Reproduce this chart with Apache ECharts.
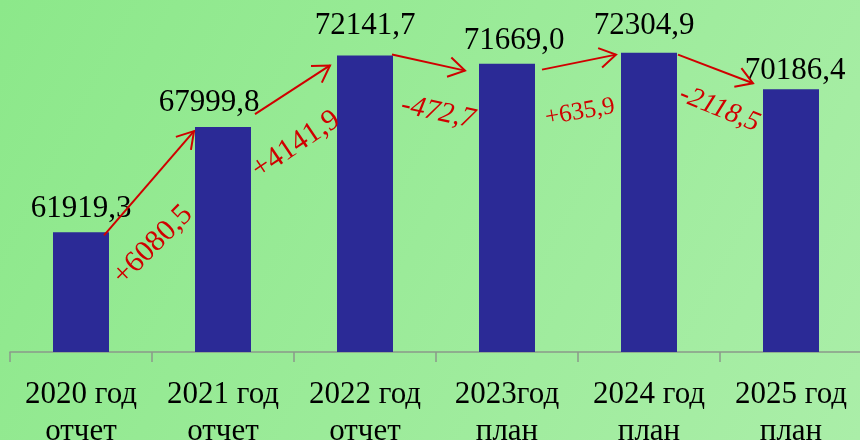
<!DOCTYPE html>
<html><head><meta charset="utf-8">
<script src="https://cdn.jsdelivr.net/npm/echarts@6/dist/echarts.min.js"></script>
<style>html,body{margin:0;padding:0;overflow:hidden;} #c{width:860px;height:440px;}</style>
</head><body><div id="c"></div>
<script>
// ---- data ----
const categories = ['2020 год\nотчет', '2021 год\nотчет', '2022 год\nотчет', '2023год\nплан', '2024 год\nплан', '2025 год\nплан'];
const values = [61919.3, 67999.8, 72141.7, 71669.0, 72304.9, 70186.4];
const changeLabels = ['+6080,5', '+4141,9', '-472,7', '+635,9', '-2118,5'];

// ---- layout / style ----
const FONT = '"Liberation Serif", "Times New Roman", serif';
const RED = '#d00000';
const BAR_W = 56;
const valueLabelShift = [[0, 0], [-14, -1], [0, -6], [7, 1], [-5, -3], [4, 5]];
const arrowStartShift = [[-5, 3], [4, -13], [-1, -1], [7, 6], [1, 2]];
const arrowEndShift = [[-1, 4], [-7, 10], [-14, 7], [-5, 2], [-10, -6]];
const changeLabelShift = [[4, 62], [3.5, 55], [9.5, 50], [1, 50], [4, 40]];
const changeLabelRot = [45, 34, -12, 10, -22];
const changeLabelSize = [30, 30, 29, 25, 28];
const changeLabelItalic = [false, false, true, false, true];

const chart = echarts.init(document.getElementById('c'));

const arrowData = changeLabels.map((t, i) => [i, values[i], values[i + 1]]);

chart.setOption({
  backgroundColor: {
    type: 'linear', x: 0, y: 0, x2: 1, y2: 1,
    colorStops: [{offset: 0, color: '#8ce88a'}, {offset: 1, color: '#aaeea8'}]
  },
  animation: false,
  grid: {left: 10, right: -2, top: 6, bottom: 88, containLabel: false, outerBoundsMode: 'none'},
  xAxis: {
    type: 'category',
    data: categories,
    boundaryGap: true,
    axisLine: {show: true, lineStyle: {color: '#8a998a', width: 1.5}},
    axisTick: {show: true, length: 10, lineStyle: {color: '#8a998a', width: 1.5}},
    axisLabel: {
      interval: 0, color: '#000', fontFamily: FONT, fontSize: 31, lineHeight: 37, margin: 24
    },
    splitLine: {show: false}
  },
  yAxis: {
    type: 'value', min: 55000, max: 75000, show: false, splitLine: {show: false}
  },
  series: [
    {
      type: 'bar',
      barWidth: BAR_W,
      itemStyle: {color: '#2b2a96'},
      label: {
        show: true, position: 'top', distance: 8,
        color: '#000', fontFamily: FONT, fontSize: 31,
        formatter: p => p.value.toFixed(1).replace('.', ',')
      },
      data: values.map((v, i) => ({value: v, label: {offset: valueLabelShift[i]}})),
      z: 2
    },
    {
      type: 'custom',
      z: 5,
      silent: true,
      encode: {x: 0, y: 1},
      data: arrowData,
      renderItem: function (params, api) {
        const i = params.dataIndex;
        const a = api.coord([api.value(0), api.value(1)]);
        const b = api.coord([api.value(0) + 1, api.value(2)]);
        const sx = a[0] + BAR_W / 2 + arrowStartShift[i][0];
        const sy = a[1] + arrowStartShift[i][1];
        const ex = b[0] - BAR_W / 2 + arrowEndShift[i][0];
        const ey = b[1] + arrowEndShift[i][1];
        const ang = Math.atan2(ey - sy, ex - sx);
        const L = 19, sp = 0.55;
        const h1 = [ex - L * Math.cos(ang - sp), ey - L * Math.sin(ang - sp)];
        const h2 = [ex - L * Math.cos(ang + sp), ey - L * Math.sin(ang + sp)];
        const mx = (sx + ex) / 2, my = (sy + ey) / 2;
        return {
          type: 'group',
          children: [
            {type: 'line', shape: {x1: sx, y1: sy, x2: ex, y2: ey}, style: {stroke: RED, lineWidth: 2}},
            {type: 'polyline', shape: {points: [h1, [ex, ey], h2]}, style: {stroke: RED, lineWidth: 2, fill: null}},
            {
              type: 'text',
              x: mx + changeLabelShift[i][0],
              y: my + changeLabelShift[i][1],
              rotation: changeLabelRot[i] * Math.PI / 180,
              style: {
                text: changeLabels[i], fill: RED,
                fontFamily: FONT, fontSize: changeLabelSize[i],
                fontStyle: changeLabelItalic[i] ? 'italic' : 'normal',
                align: 'center', verticalAlign: 'middle'
              }
            }
          ]
        };
      }
    }
  ]
});
</script>
</body></html>
